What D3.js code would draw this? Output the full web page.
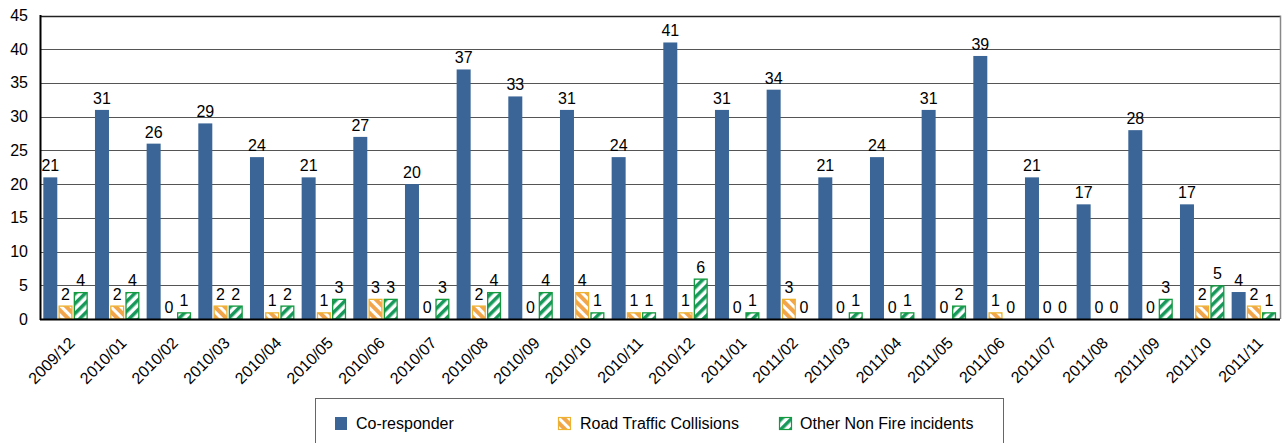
<!DOCTYPE html>
<html><head><meta charset="utf-8">
<script src="https://cdn.jsdelivr.net/npm/d3@7"></script>
<style>body{margin:0;background:#fff}svg{display:block;font-family:"Liberation Sans",Arial,sans-serif}</style>
</head><body>
<svg id="c" width="1282" height="443"></svg>
<script>
const categories = ["2009/12","2010/01","2010/02","2010/03","2010/04","2010/05","2010/06","2010/07","2010/08","2010/09","2010/10","2010/11","2010/12","2011/01","2011/02","2011/03","2011/04","2011/05","2011/06","2011/07","2011/08","2011/09","2011/10","2011/11"];
const coResponder = [21,31,26,29,24,21,27,20,37,33,31,24,41,31,34,21,24,31,39,21,17,28,17,4];
const roadTraffic = [2,2,0,2,1,1,3,0,2,0,4,1,1,0,3,0,0,0,1,0,0,0,2,2];
const otherNonFire = [4,4,1,2,2,3,3,3,4,4,1,1,6,1,0,1,1,2,0,0,0,3,5,1];
const seriesNames = ["Co-responder","Road Traffic Collisions","Other Non Fire incidents"];
const yTicks = [0,5,10,15,20,25,30,35,40,45];

const svg = d3.select("#c");
const L=40, R=1280, T=15.5, B=319;
const defs = svg.append("defs");
const po = defs.append("pattern").attr("id","pOrange").attr("patternUnits","userSpaceOnUse").attr("width",7).attr("height",7).attr("patternTransform","rotate(-45)");
po.append("rect").attr("width",7).attr("height",7).attr("fill","#F2A54A");
po.append("rect").attr("width",3).attr("height",7).attr("fill","#fff");
const pg = defs.append("pattern").attr("id","pGreen").attr("patternUnits","userSpaceOnUse").attr("width",7).attr("height",7).attr("patternTransform","rotate(45)");
pg.append("rect").attr("width",7).attr("height",7).attr("fill","#fff");
pg.append("rect").attr("width",3.5).attr("height",7).attr("fill","#16995A");

const x = d3.scaleBand().domain(categories).range([L,R]).padding(0);
const bw = x.bandwidth();
const xs = d3.scaleBand().domain([0,1,2]).range([bw*0.064, bw*0.924]).paddingInner(0.08);
const y = d3.scaleLinear().domain([0,45]).range([B,T]);

// grid
svg.append("g").selectAll("line").data(yTicks.filter(d=>d>0)).join("line")
  .attr("x1",L).attr("x2",R).attr("y1",d=>Math.round(y(d))+0.5).attr("y2",d=>Math.round(y(d))+0.5)
  .attr("stroke",d=>d===45?"#222":"#555").attr("stroke-width",d=>d===45?1.6:1.1);
svg.append("line").attr("x1",R+0.5).attr("x2",R+0.5).attr("y1",T).attr("y2",B).attr("stroke","#888").attr("stroke-width",1.5);

// y axis labels
svg.append("g").selectAll("text").data(yTicks).join("text")
  .attr("x",28).attr("y",d=>y(d)+5.5).attr("text-anchor","end").attr("font-size",16).attr("fill","#000").text(d=>d);

const series = [coResponder, roadTraffic, otherNonFire];
const fills = ["#3A6596","url(#pOrange)","url(#pGreen)"];
const strokes = [null,"#EDB22F","#139A3E"];
series.forEach((vals,si)=>{
  const g = svg.append("g");
  const data = vals.map((v,i)=>({v,c:categories[i]}));
  const s = strokes[si] ? 0.6 : 0;
  g.selectAll("rect").data(data).join("rect")
    .attr("x",d=>x(d.c)+xs(si)+s)
    .attr("width",xs.bandwidth()-2*s)
    .attr("y",d=>y(d.v)+s)
    .attr("height",d=>Math.max(0,B-y(d.v)-s))
    .attr("fill",fills[si])
    .attr("stroke",strokes[si]||"none").attr("stroke-width",1.3)
    .attr("display",d=>d.v===0?"none":null);
  g.selectAll("text").data(data).join("text")
    .attr("x",d=>x(d.c)+xs(si)+xs.bandwidth()/2)
    .attr("y",d=>y(d.v)-6).attr("text-anchor","middle").attr("font-size",16).attr("fill","#000").text(d=>d.v);
});

// axes lines
svg.append("line").attr("x1",L).attr("x2",R).attr("y1",B+0.5).attr("y2",B+0.5).attr("stroke","#000").attr("stroke-width",2);
svg.append("line").attr("x1",L+0.5).attr("x2",L+0.5).attr("y1",T-0.5).attr("y2",B+1).attr("stroke","#000").attr("stroke-width",2);

// x labels
svg.append("g").selectAll("text").data(categories).join("text")
  .attr("transform",d=>`translate(${x(d)+bw/2+10},${B+25}) rotate(-45)`)
  .attr("text-anchor","end").attr("font-size",16).attr("fill","#000").text(d=>d);

// legend
const lg = svg.append("g");
lg.append("rect").attr("x",315.5).attr("y",398.5).attr("width",688).attr("height",60).attr("fill","none").attr("stroke","#666");
const lx = [335,558,779];
const tx = [356,580,800];
seriesNames.forEach((n,i)=>{
  lg.append("rect").attr("x",lx[i]+(i?0.5:0)).attr("y",417+(i?0.5:0)).attr("width",i?12:12).attr("height",i?12:13)
    .attr("fill",fills[i]).attr("stroke",strokes[i]||"none").attr("stroke-width",1.2);
  lg.append("text").attr("x",tx[i]).attr("y",429).attr("font-size",16).attr("fill","#000").text(n);
});
</script>
</body></html>
